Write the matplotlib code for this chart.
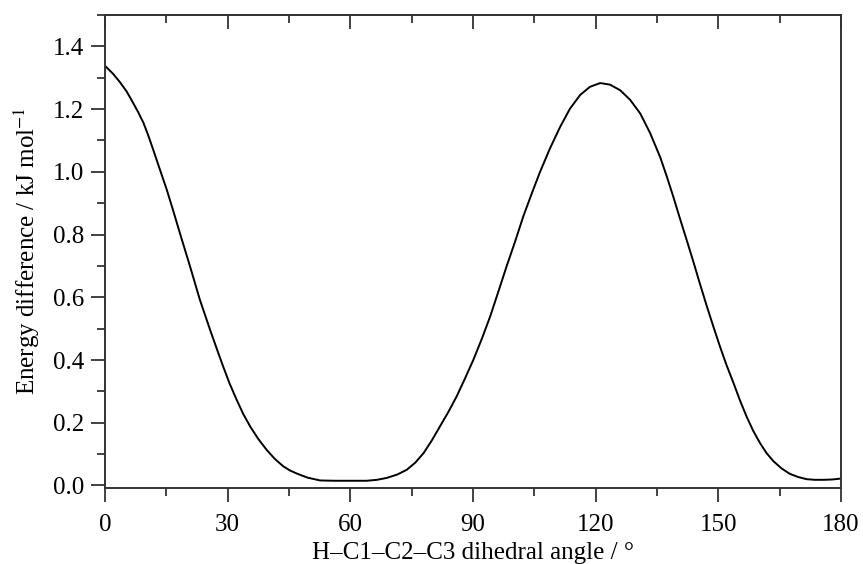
import numpy as np
import matplotlib
matplotlib.use('Agg')
import matplotlib.pyplot as plt
from matplotlib.ticker import MultipleLocator

# ---------------------------------------------------------------------------
# data
# ---------------------------------------------------------------------------
angle = [0.0, 2.0, 3.7, 5.3, 6.9, 8.2, 9.4, 10.6, 11.8, 13.4,
         15.1, 16.7, 18.3, 20.8, 23.2, 25.7, 27.3, 28.9, 30.5, 32.2,
         33.8, 35.5, 37.5, 39.5, 41.5, 43.6, 45.2, 46.9, 49.5, 52.6,
         56.0, 59.1, 64.0, 66.5, 68.9, 71.5, 73.8, 75.9, 77.9, 79.9,
         81.9, 84.0, 86.0, 88.0, 90.1, 92.2, 94.2, 96.2, 98.2, 100.3,
         102.3, 104.4, 106.4, 108.8, 111.3, 113.7, 116.2, 118.6, 121.1, 123.5,
         126.0, 128.4, 130.9, 133.3, 135.8, 137.4, 139.0, 140.4, 142.2, 143.9,
         145.5, 147.1, 148.8, 150.4, 152.0, 153.7, 155.3, 156.9, 158.5, 160.2,
         161.8, 163.5, 165.5, 167.5, 169.5, 171.6, 173.6, 175.7, 177.8, 180.0]
energy = [1.338, 1.312, 1.285, 1.256, 1.219, 1.188, 1.156, 1.115, 1.070, 1.008,
          0.943, 0.875, 0.805, 0.698, 0.592, 0.496, 0.437, 0.379, 0.324, 0.273,
          0.228, 0.188, 0.148, 0.114, 0.085, 0.061, 0.048, 0.038, 0.025, 0.016,
          0.015, 0.015, 0.015, 0.018, 0.024, 0.035, 0.050, 0.073, 0.103, 0.143,
          0.188, 0.235, 0.284, 0.340, 0.401, 0.469, 0.539, 0.618, 0.698, 0.778,
          0.858, 0.932, 1.000, 1.074, 1.143, 1.201, 1.245, 1.271, 1.283, 1.278,
          1.260, 1.230, 1.186, 1.124, 1.046, 0.985, 0.920, 0.860, 0.785, 0.713,
          0.643, 0.575, 0.506, 0.443, 0.384, 0.327, 0.271, 0.220, 0.175, 0.135,
          0.103, 0.077, 0.054, 0.037, 0.027, 0.020, 0.018, 0.018, 0.019, 0.022]

x_ticks = [0, 30, 60, 90, 120, 150, 180]
y_ticks = [0.0, 0.2, 0.4, 0.6, 0.8, 1.0, 1.2, 1.4]

# ---------------------------------------------------------------------------
# style
# ---------------------------------------------------------------------------
plt.rcParams['font.family'] = ['Liberation Serif', 'DejaVu Serif']
plt.rcParams['mathtext.fontset'] = 'stix'
plt.rcParams['font.size'] = 18
SPINE = '#333333'

fig = plt.figure(figsize=(8.63, 5.64), dpi=100)
ax = fig.add_axes([0.1217, 0.1348, 0.8528, 0.8386])

ax.plot(angle, energy, color='black', lw=1.4, solid_joinstyle='round')

ax.set_xlim(0, 180)
ax.set_ylim(-0.008, 1.5)
ax.set_xticks(x_ticks)
ax.set_yticks(y_ticks)
ax.set_yticklabels([f"{v:.1f}" for v in y_ticks])
ax.xaxis.set_minor_locator(MultipleLocator(15))
ax.yaxis.set_minor_locator(MultipleLocator(0.1))

for s in ax.spines.values():
    s.set_color(SPINE)
    s.set_linewidth(1.4)

ax.tick_params(axis='both', which='both', direction='out', color=SPINE,
               width=1.3, top=False, right=False)
ax.tick_params(axis='both', which='major', length=10)
ax.tick_params(axis='both', which='minor', length=5.5)
ax.tick_params(axis='x', pad=9)
ax.tick_params(axis='y', pad=5)

# inward ticks along the top edge
top = ax.secondary_xaxis('top')
top.set_xticks(x_ticks)
top.xaxis.set_minor_locator(MultipleLocator(15))
top.tick_params(which='both', direction='in', color=SPINE, width=1.3,
                labeltop=False)
top.tick_params(which='major', length=10)
top.tick_params(which='minor', length=5.5)
top.spines['top'].set_color(SPINE)
top.spines['top'].set_linewidth(1.4)

ax.set_xlabel("H\u2013C1\u2013C2\u2013C3 dihedral angle / \u00b0", labelpad=4)
ax.set_ylabel("Energy difference / kJ mol$^{-1}$", labelpad=8)

fig.savefig('out.png', dpi=100)
